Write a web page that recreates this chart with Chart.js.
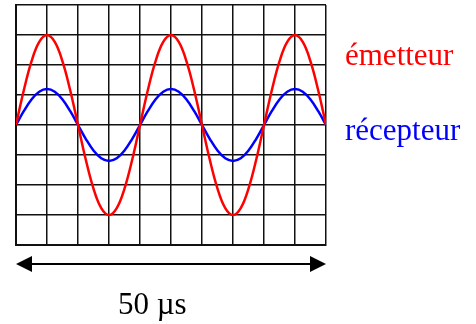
<!DOCTYPE html>
<html><head><meta charset="utf-8">
<script src="https://cdn.jsdelivr.net/npm/chart.js@4/dist/chart.umd.min.js"></script>
<style>html,body{margin:0;padding:0;background:#fff}#wrap{width:476px;height:324px}</style>
</head><body><div id="wrap"><canvas id="c" width="476" height="324"></canvas></div>
<script>
// time in divisions (10 divisions = 50 µs)
const times = [0,0.25,0.5,0.75,1,1.25,1.5,1.75,2,2.25,2.5,2.75,3,3.25,3.5,3.75,4,4.25,4.5,4.75,5,5.25,5.5,5.75,6,6.25,6.5,6.75,7,7.25,7.5,7.75,8,8.25,8.5,8.75,9,9.25,9.5,9.75,10];
// voltages in divisions
const emetteur = [0,1.15,2.12,2.77,3,2.77,2.12,1.15,0,-1.15,-2.12,-2.77,-3,-2.77,-2.12,-1.15,0,1.15,2.12,2.77,3,2.77,2.12,1.15,0,-1.15,-2.12,-2.77,-3,-2.77,-2.12,-1.15,0,1.15,2.12,2.77,3,2.77,2.12,1.15,0];
const recepteur = [0,0.46,0.85,1.11,1.2,1.11,0.85,0.46,0,-0.46,-0.85,-1.11,-1.2,-1.11,-0.85,-0.46,0,0.46,0.85,1.11,1.2,1.11,0.85,0.46,0,-0.46,-0.85,-1.11,-1.2,-1.11,-0.85,-0.46,0,0.46,0.85,1.11,1.2,1.11,0.85,0.46,0];
const seriesLabels = ["émetteur","récepteur"];
const spanLabel = "50 µs";

const toPts = v => v.map((y,i)=>({x:times[i],y:y}));

const overlay = {
  id:'overlay',
  afterDraw(chart){
    const ctx = chart.ctx, xs = chart.scales.x, ys = chart.scales.y;
    const x0 = xs.getPixelForValue(0), x1 = xs.getPixelForValue(10);
    const ay = ys.getPixelForValue(-4) + 19;
    ctx.save();
    ctx.strokeStyle='#000'; ctx.fillStyle='#000'; ctx.lineWidth=2;
    ctx.beginPath(); ctx.moveTo(x0+10,ay); ctx.lineTo(x1-10,ay); ctx.stroke();
    const hl=16, hw=8;
    ctx.beginPath(); ctx.moveTo(x0,ay); ctx.lineTo(x0+hl,ay-hw); ctx.lineTo(x0+hl,ay+hw); ctx.closePath(); ctx.fill();
    ctx.beginPath(); ctx.moveTo(x1,ay); ctx.lineTo(x1-hl,ay-hw); ctx.lineTo(x1-hl,ay+hw); ctx.closePath(); ctx.fill();
    ctx.font = '31px "Liberation Serif", "Times New Roman", serif';
    ctx.textBaseline='alphabetic'; ctx.textAlign='left';
    ctx.fillStyle='#000';
    ctx.fillText(spanLabel, 118, 314);
    ctx.fillStyle='#ff0000';
    ctx.fillText(seriesLabels[0], x1+19, ys.getPixelForValue(2));
    ctx.fillStyle='#0000ff';
    ctx.fillText(seriesLabels[1], x1+19, ys.getPixelForValue(-0.5));
    ctx.restore();
  }
};

new Chart(document.getElementById('c'), {
  type:'line',
  data:{datasets:[
    {label:seriesLabels[0], data:toPts(emetteur), borderColor:'#ff0000', borderWidth:2.5, pointRadius:0, tension:0.4, fill:false},
    {label:seriesLabels[1], data:toPts(recepteur), borderColor:'#0000ff', borderWidth:2.5, pointRadius:0, tension:0.4, fill:false}
  ]},
  options:{
    responsive:false, animation:false, devicePixelRatio:1,
    layout:{padding:{left:16,top:5,right:150,bottom:79}},
    plugins:{legend:{display:false}, tooltip:{enabled:false}},
    scales:{
      x:{type:'linear', min:0, max:10, ticks:{display:false, stepSize:1}, grid:{color:'#111', lineWidth:1.5, drawTicks:false}, border:{display:true, color:'#111', width:2}},
      y:{type:'linear', min:-4, max:4, ticks:{display:false, stepSize:1}, grid:{color:'#111', lineWidth:1.5, drawTicks:false}, border:{display:true, color:'#111', width:2}}
    }
  },
  plugins:[overlay]
});
</script></body></html>
